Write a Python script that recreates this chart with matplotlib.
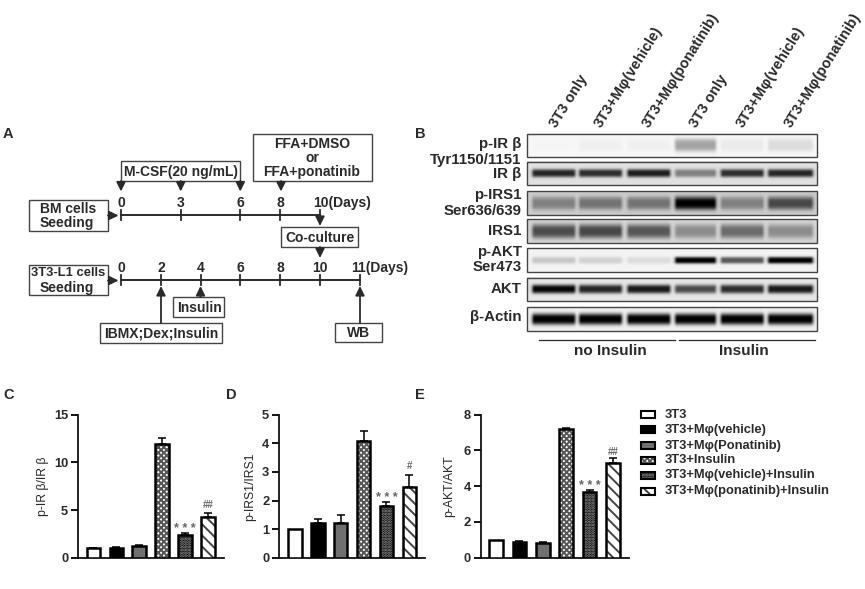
import numpy as np
import matplotlib
matplotlib.use("Agg")
import matplotlib.pyplot as plt
from matplotlib.patches import Rectangle

plt.rcParams['font.family'] = ['Liberation Sans', 'DejaVu Sans']
plt.rcParams['hatch.linewidth'] = 1.4

W, H = 865, 589
INK = '#2a2a2a'

# ---------- data ----------
groups = ['3T3', '3T3+Mφ(vehicle)', '3T3+Mφ(Ponatinib)', '3T3+Insulin',
          '3T3+Mφ(vehicle)+Insulin', '3T3+Mφ(ponatinib)+Insulin']
irb_vals = [1.0, 1.05, 1.2, 11.9, 2.35, 4.25]
irb_errs = [0.03, 0.06, 0.12, 0.65, 0.22, 0.42]
irs_vals = [1.0, 1.2, 1.22, 4.07, 1.82, 2.47]
irs_errs = [0.0, 0.17, 0.28, 0.35, 0.12, 0.42]
akt_vals = [1.0, 0.9, 0.82, 7.2, 3.7, 5.3]
akt_errs = [0.0, 0.06, 0.07, 0.05, 0.1, 0.3]

lane_labels = ['3T3 only', '3T3+Mφ(vehicle)', '3T3+Mφ(ponatinib)'] * 2
blot_names = ['p-IR β', 'IR β', 'p-IRS1', 'IRS1', 'p-AKT', 'AKT', 'β-Actin']
blot_darkness = [
    [0.04, 0.06, 0.06, 0.36, 0.08, 0.14],
    [0.85, 0.82, 0.88, 0.50, 0.82, 0.85],
    [0.50, 0.55, 0.55, 1.00, 0.50, 0.72],
    [0.70, 0.72, 0.66, 0.45, 0.58, 0.45],
    [0.22, 0.18, 0.14, 1.00, 0.65, 1.00],
    [0.98, 0.85, 0.90, 0.70, 0.82, 0.90],
    [1.00, 1.00, 1.00, 1.00, 1.00, 1.00],
]
blot_background = [0.03, 0.12, 0.20, 0.16, 0.05, 0.10, 0.06]
blot_sigma = [6.5, 4.0, 6.5, 7.0, 3.4, 4.4, 5.6]
day_top = ['0', '3', '6', '8', '10(Days)']
day_bottom = ['0', '2', '4', '6', '8', '10', '11(Days)']

# ---------- layout (pixels) ----------
fig = plt.figure(figsize=(W / 100, H / 100), dpi=100, facecolor='white')
ov = fig.add_axes([0, 0, 1, 1], zorder=0)
ov.axis('off')


def box(x0, y0, x1, y1, lw=1.0):
    ov.add_patch(Rectangle((x0, y0), x1 - x0, y1 - y0, fill=False, ec='#444444', lw=lw))


def arrow(x0, y0, x1, y1):
    ov.annotate('', xy=(x1, y1), xytext=(x0, y0),
                arrowprops=dict(arrowstyle='-|>,head_length=0.55,head_width=0.27',
                                color=INK, lw=1.3, shrinkA=0, shrinkB=0))


def txt(x, y, s, size=10.0, ha='center', va='center', **kw):
    kw.setdefault('fontweight', 'bold')
    kw.setdefault('color', INK)
    ov.text(x, y, s, fontsize=size, ha=ha, va=va, **kw)


# Panel letters
for x, y, s in [(3, 134, 'A'), (415, 134, 'B'), (3, 395, 'C'), (226, 395, 'D'), (415, 395, 'E')]:
    txt(x, y, s, size=10.5, ha='left')

# ---------- Panel A ----------
top_x = [121, 180.7, 240.3, 280, 320]
bot_x = [121, 161, 200.5, 240, 280, 320, 360]
ov.plot([121, 320], [215, 215], color=INK, lw=1.4)
ov.plot([121, 360], [280, 280], color=INK, lw=1.4)
for x, lab in zip(top_x, day_top):
    ov.plot([x, x], [210, 220], color=INK, lw=1.3)
    txt(x if len(lab) == 1 else x - 7, 203, lab, ha='center' if len(lab) == 1 else 'left')
for x, lab in zip(bot_x, day_bottom):
    ov.plot([x, x], [275, 285], color=INK, lw=1.3)
    txt(x if len(lab) <= 2 else x - 9, 268, lab, ha='center' if len(lab) <= 2 else 'left')

box(29, 200, 108, 231)
txt(68.5, 209, 'BM cells')
txt(67, 223.5, 'Seeding')
box(29, 264.5, 108, 295)
txt(68, 273.5, '3T3-L1 cells', size=9.4)
txt(67, 288, 'Seeding')
box(121, 161, 240, 181)
txt(181, 172, 'M-CSF(20 ng/mL)')
box(253, 134, 372, 181)
txt(312, 144, 'FFA+DMSO')
txt(312, 158, 'or')
txt(312, 172, 'FFA+ponatinib')
box(281, 227, 358, 247)
txt(319.5, 238, 'Co-culture')
box(173, 297, 224, 317)
txt(199, 307.5, 'Insulin')
box(100, 323, 222, 343)
txt(161, 333.5, 'IBMX;Dex;Insulin')
box(335, 323, 382, 342)
txt(359, 333, 'WB')
for x in [121, 180.7, 240.3, 281]:
    arrow(x, 181, x, 191.5)
arrow(320, 215, 320, 226)
arrow(320, 247, 320, 258)
arrow(108, 215.5, 118.5, 215.5)
arrow(108, 280.5, 118.5, 280.5)
arrow(200.5, 297, 200.5, 286)
arrow(161, 323, 161, 286)
arrow(360, 323, 360, 286)

# ---------- Panel B ----------
box_left, box_right = 526.7, 816.7
rows = [(133.7, 157.3), (161.7, 185), (191, 215), (219.3, 243.3),
        (248.3, 272.3), (277.7, 301.3), (307, 330.7)]
lanes = [553.3, 600, 648.3, 695, 741.7, 790]
band_half = [19, 19, 19, 18, 19, 20]
for (y0, y1), dark, bg, sig in zip(rows, blot_darkness, blot_background, blot_sigma):
    xs = np.arange(box_left, box_right, 0.5)
    ys = np.arange(y0, y1, 0.5)
    X, Y = np.meshgrid(xs, ys)
    img = np.full(X.shape, float(bg))
    ymid = (y0 + y1) / 2
    for cx, d, hw in zip(lanes, dark, band_half):
        px = np.clip((np.abs(X - cx) - hw) / 3.0, 0, None)
        img = np.maximum(img, bg + (d - bg) * np.exp(-px ** 2 - np.abs((Y - ymid) / sig) ** 3))
    ov.imshow(1 - img, extent=(box_left, box_right, y1, y0), cmap='gray', vmin=0, vmax=1,
              aspect='auto', interpolation='bilinear')
    box(box_left, y0, box_right, y1, lw=1.0)

for y, s in [(144, 'p-IR β'), (160, 'Tyr1150/1151'), (174, 'IR β'), (195, 'p-IRS1'),
             (211, 'Ser636/639'), (231, 'IRS1'), (252, 'p-AKT'), (267, 'Ser473'),
             (289, 'AKT'), (317, 'β-Actin')]:
    txt(521.7, y, s, ha='right', size=10.8)

for x, lab in zip([553, 598, 646, 693, 740, 788], lane_labels):
    ov.text(x, 126, lab, rotation=58, rotation_mode='anchor', ha='left', va='center',
            fontsize=10.5, fontweight='bold', color=INK)

ov.plot([539, 675], [340, 340], color=INK, lw=0.9)
ov.plot([679, 815], [340, 340], color=INK, lw=0.9)
txt(610, 351, 'no Insulin', size=11)
txt(744, 351, 'Insulin', size=11)

ov.set_xlim(0, W)
ov.set_ylim(H, 0)

# ---------- Bars ----------
styles = [
    dict(fc='white', hatch=None, hc=None),
    dict(fc='black', hatch=None, hc=None),
    dict(fc='#707070', hatch=None, hc=None),
    dict(fc='white', hatch='xxxxxx', hc='#555555'),
    dict(fc='black', hatch='......', hc='#999999'),
    dict(fc='white', hatch='\\\\\\', hc='#444444'),
]


def draw_patch(ax, x, y, h, w, st):
    ax.bar(x, h, w, bottom=y, color=st['fc'], edgecolor=st['hc'] if st['hc'] else 'black',
           hatch=st['hatch'], linewidth=0, zorder=3)
    ax.bar(x, h, w, bottom=y, fill=False, edgecolor='black', linewidth=1.8, zorder=4)


def bar_panel(left, right, c0, step, ymax, yticks, vals, errs, ylabel, ylab_x, marks):
    bottom, top = 557.7, 414.7
    ax = fig.add_axes([left / W, 1 - bottom / H, (right - left) / W, (bottom - top) / H],
                      zorder=2, facecolor='none')
    idx = np.arange(len(vals))
    for i, v, e, st in zip(idx, vals, errs, styles):
        if e > 0:
            ax.errorbar(i, v, yerr=[[0], [e]], color='black', capsize=3.2, elinewidth=1.1,
                        capthick=1.1, zorder=2)
        draw_patch(ax, i, 0, v, 13.5 / step, st)
    ax.set_xlim((left - c0) / step, (right - c0) / step)
    ax.set_ylim(0, ymax)
    ax.set_yticks(yticks)
    ax.set_xticks([])
    for s in ['top', 'right']:
        ax.spines[s].set_visible(False)
    for s in ['left', 'bottom']:
        ax.spines[s].set_linewidth(1.3)
        ax.spines[s].set_color('#111111')
    ax.tick_params(axis='y', length=5, width=1.3, pad=2, labelsize=9.3, labelcolor=INK)
    for t in ax.get_yticklabels():
        t.set_fontweight('bold')
    ov.text(ylab_x, 486.5, ylabel, rotation=90, ha='center', va='center', fontsize=8.8, color=INK)
    for i, s, y_off in marks:
        ax.annotate(s, (i, vals[i] + errs[i]), xytext=(0, y_off), textcoords='offset pixels',
                    ha='center', va='center', fontsize=9 if s[0] == '*' else 7,
                    color='#666666', fontweight='bold', zorder=5)
    return ax


bar_panel(78, 224, 93.3, 22.95, 15, [0, 5, 10, 15], irb_vals, irb_errs, 'p-IR β/IR β', 43,
          [(4, '* * *', 4), (5, '##', 8)])
bar_panel(279, 425, 295, 22.85, 5, [0, 1, 2, 3, 4, 5], irs_vals, irs_errs, 'p-IRS1/IRS1', 250,
          [(4, '* * *', 4), (5, '#', 9)])
bar_panel(480.7, 629, 496, 23.4, 8, [0, 2, 4, 6, 8], akt_vals, akt_errs, 'p-AKT/AKT', 449,
          [(4, '* * *', 4), (5, '##', 6)])

# ---------- Legend ----------
leg_y = [414.7, 429.7, 445.7, 460.3, 475, 491]
lg = fig.add_axes([0, 0, 1, 1], zorder=3, facecolor='none')
lg.axis('off')
lg.set_xlim(0, W)
lg.set_ylim(H, 0)
for y, name, st in zip(leg_y, groups, styles):
    lg.add_patch(Rectangle((641, y - 3.5), 14, 7, facecolor=st['fc'],
                           edgecolor=st['hc'] if st['hc'] else 'black',
                           hatch=st['hatch'], lw=0, zorder=1))
    lg.add_patch(Rectangle((641, y - 3.5), 14, 7, fill=False, edgecolor='black', lw=1.5, zorder=2))
    lg.text(665, y, name, fontsize=9.3, fontweight='bold', color=INK, ha='left', va='center')

fig.savefig('out.png', dpi=100)
